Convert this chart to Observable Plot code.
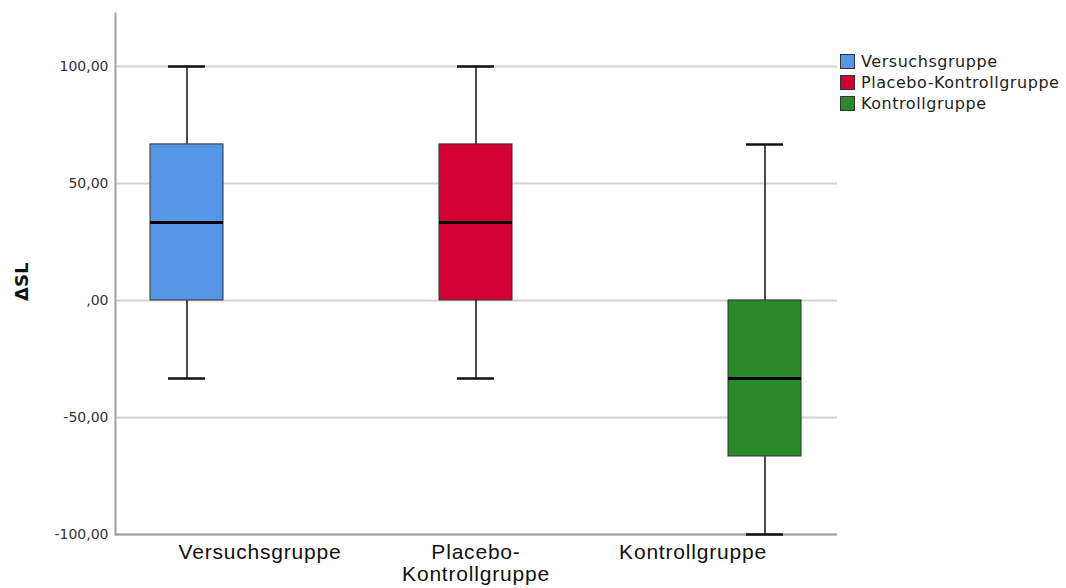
<!DOCTYPE html>
<html>
<head>
<meta charset="utf-8">
<script src="https://cdn.jsdelivr.net/npm/d3@7"></script>
<script src="https://cdn.jsdelivr.net/npm/@observablehq/plot@0.6"></script>
<style>
  body { margin: 0; background: #fff; }
  #wrap { position: relative; width: 1066px; height: 588px; overflow: hidden; }
  #legend { position: absolute; left: 840px; top: 51px; font-family: "DejaVu Sans", sans-serif; font-size: 16px; letter-spacing: 0.55px; color: #222; }
  #legend .item { display: flex; align-items: center; height: 21px; }
  #legend .sw { width: 15px; height: 15px; border: 1px solid #333; margin-right: 6px; box-sizing: border-box; }
  .xlab text { letter-spacing: 0.8px; }
</style>
</head>
<body>
<div id="wrap"><div id="legend"></div></div>
<script>
const groups = ["Versuchsgruppe", "Placebo-Kontrollgruppe", "Kontrollgruppe"];
const groupLabels = ["Versuchsgruppe", "Placebo-\nKontrollgruppe", "Kontrollgruppe"];
const colors = ["#5596E6", "#D50032", "#2A8A2A"];
const whiskerLow = [-33.33, -33.33, -100];
const q1 = [0, 0, -66.67];
const median = [33.33, 33.33, -33.33];
const q3 = [66.67, 66.67, 0];
const whiskerHigh = [100, 100, 66.67];
const yTicks = [-100, -50, 0, 50, 100];
const yTickLabels = ["-100,00", "-50,00", ",00", "50,00", "100,00"];
const yTitle = "ΔSL";

const rows = groups.map((g, i) => ({
  g, lo: whiskerLow[i], q1: q1[i], med: median[i], q3: q3[i], hi: whiskerHigh[i]
}));

const xLabelOffsets = [73, 0, -72];
const xAxisOpts = (i) => ({
  tickSize: 0, tickPadding: 9, fontSize: 21, fill: "#111",
  fontFamily: "Liberation Sans, Arial, sans-serif",
  tickFormat: (d) => groupLabels[groups.indexOf(d)],
  lineHeight: 1.05, dx: xLabelOffsets[i], label: null, className: "xlab"
});

const chart = Plot.plot({
  width: 1066,
  height: 588,
  marginLeft: 115,
  marginRight: 229,
  marginTop: 13,
  marginBottom: 54,
  style: { fontFamily: "DejaVu Sans, sans-serif", background: "#fff" },
  x: { domain: groups, paddingInner: 0.7474, paddingOuter: 0.1228, label: null },
  y: { domain: [-100, 122.6], label: null },
  color: { domain: groups, range: colors },
  marks: [
    Plot.gridY(yTicks, { stroke: "#d2d2d2", strokeOpacity: 1, strokeWidth: 2 }),
    Plot.ruleY([-100], { stroke: "#a0a0a0", strokeWidth: 2 }),
    Plot.frame({ anchor: "left", stroke: "#a0a0a0", strokeWidth: 2 }),
    Plot.ruleX(rows, { x: "g", y1: "lo", y2: "q1", stroke: "#111", strokeWidth: 1.5 }),
    Plot.ruleX(rows, { x: "g", y1: "q3", y2: "hi", stroke: "#111", strokeWidth: 1.5 }),
    Plot.tickY(rows, { x: "g", y: "lo", stroke: "#111", strokeWidth: 2.5, insetLeft: 18, insetRight: 18 }),
    Plot.tickY(rows, { x: "g", y: "hi", stroke: "#111", strokeWidth: 2.5, insetLeft: 18, insetRight: 18 }),
    Plot.barY(rows, { x: "g", y1: "q1", y2: "q3", fill: "g", stroke: "#333", strokeWidth: 1 }),
    Plot.tickY(rows, { x: "g", y: "med", stroke: "#000", strokeWidth: 3 }),
    Plot.axisY(yTicks, {
      tickSize: 0, tickPadding: 7, fontSize: 14, fill: "#333",
      tickFormat: (d) => yTickLabels[yTicks.indexOf(d)],
      label: null
    }),
    Plot.text([yTitle], {
      frameAnchor: "left", rotate: -90, dx: -93, dy: 27,
      fontSize: 18, fontWeight: "bold", fill: "#111"
    }),
    ...groups.map((g, i) => Plot.axisX([g], xAxisOpts(i)))
  ]
});
document.getElementById("wrap").prepend(chart);

const legend = document.getElementById("legend");
groups.forEach((g, i) => {
  const item = document.createElement("div");
  item.className = "item";
  const sw = document.createElement("div");
  sw.className = "sw";
  sw.style.background = colors[i];
  const tx = document.createElement("span");
  tx.textContent = g;
  item.appendChild(sw);
  item.appendChild(tx);
  legend.appendChild(item);
});
</script>
</body>
</html>
